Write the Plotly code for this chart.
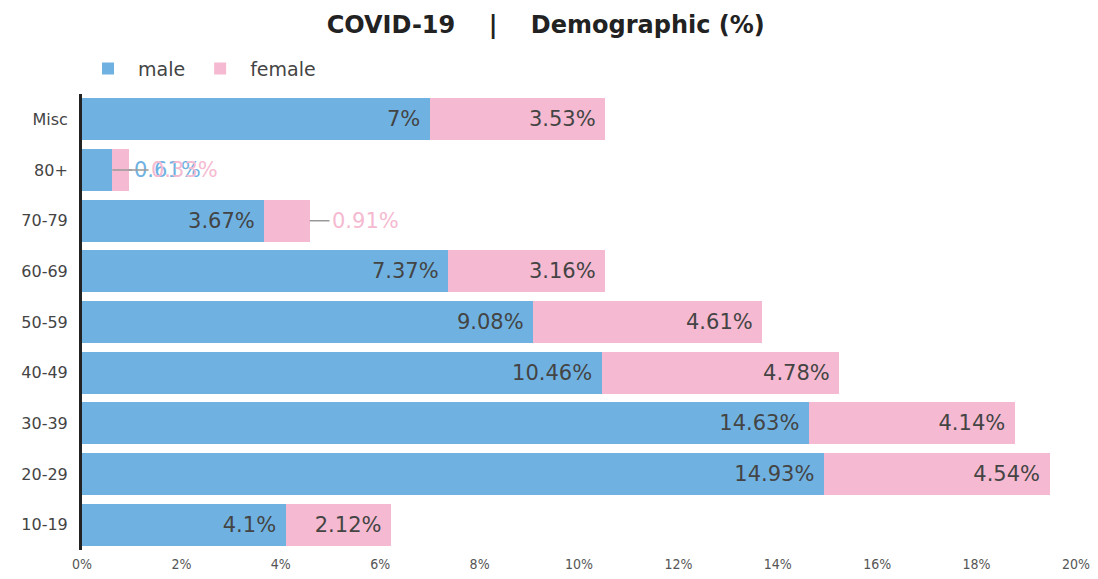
import plotly.graph_objects as go

AGE_GROUPS = ["10-19", "20-29", "30-39", "40-49", "50-59", "60-69", "70-79", "80+", "Misc"]
MALE = [4.1, 14.93, 14.63, 10.46, 9.08, 7.37, 3.67, 0.61, 7.0]
FEMALE = [2.12, 4.54, 4.14, 4.78, 4.61, 3.16, 0.91, 0.33, 3.53]
X_TICKS = [0, 2, 4, 6, 8, 10, 12, 14, 16, 18, 20]

BLUE = "#6fb2e2"
PINK = "#f5bad1"
FONT = "DejaVu Sans, sans-serif"
SMALL = 1.0  # labels for segments narrower than this go outside with a leader line
LEAD = 0.4   # leader line length, in axis units


def label(v):
    return f"{v:g}%"


fig = go.Figure()
for name, vals, color in [("male", MALE, BLUE), ("female", FEMALE, PINK)]:
    fig.add_trace(
        go.Bar(
            y=AGE_GROUPS,
            x=vals,
            name=name,
            orientation="h",
            marker=dict(color=color, line=dict(width=0)),
            # trailing nbsp keeps the label a little off the bar end
            text=[label(v) + "\u00a0" if v >= SMALL else "" for v in vals],
            textposition="inside",
            insidetextanchor="end",
            textfont=dict(family=FONT, size=21, color="#444"),
            constraintext="none",
            hoverinfo="skip",
        )
    )

# outside labels for the tiny segments, with a short grey leader line
for i, grp in enumerate(AGE_GROUPS):
    ends = [(MALE[i], MALE[i], BLUE), (MALE[i] + FEMALE[i], FEMALE[i], PINK)]
    for end, val, color in ends:
        if val >= SMALL:
            continue
        fig.add_annotation(
            x=end, y=grp, xref="x", yref="y", text=label(val),
            showarrow=True, arrowhead=0, arrowwidth=1.5, arrowcolor="#999",
            ax=end + LEAD, ay=grp, axref="x", ayref="y", xanchor="left",
            font=dict(family=FONT, size=21, color=color),
        )

fig.update_layout(
    width=1082,
    height=563,
    barmode="stack",
    bargap=0.17,
    plot_bgcolor="white",
    paper_bgcolor="white",
    margin=dict(l=74, r=14, t=86, b=21),
    title=dict(
        text="<b>COVID-19    |    Demographic (%)</b>",
        x=0.497,
        xanchor="center",
        y=0.985,
        yanchor="top",
        font=dict(family=FONT, size=24, color="#222"),
    ),
    legend=dict(
        orientation="h",
        traceorder="normal",
        x=-0.004,
        xanchor="left",
        y=1.014,
        yanchor="bottom",
        font=dict(family=FONT, size=19, color="#444"),
        itemwidth=50,
    ),
    font=dict(family=FONT),
)
fig.update_xaxes(
    range=[0, 20],
    tickvals=X_TICKS,
    ticktext=[f"{t}%" for t in X_TICKS],
    showgrid=False,
    zeroline=False,
    showline=False,
    automargin=False,
    ticklabeloverflow="allow",
    ticklabelstandoff=4,
    tickfont=dict(family="DejaVu Sans Condensed, sans-serif", size=14, color="#555"),
)
fig.update_yaxes(
    categoryorder="array",
    categoryarray=AGE_GROUPS,
    showgrid=False,
    showline=True,
    linecolor="#222",
    linewidth=3,
    ticks="",
    automargin=False,
    ticklabelstandoff=8,
    tickfont=dict(family=FONT, size=16, color="#444"),
)

fig.write_html("out.html")
